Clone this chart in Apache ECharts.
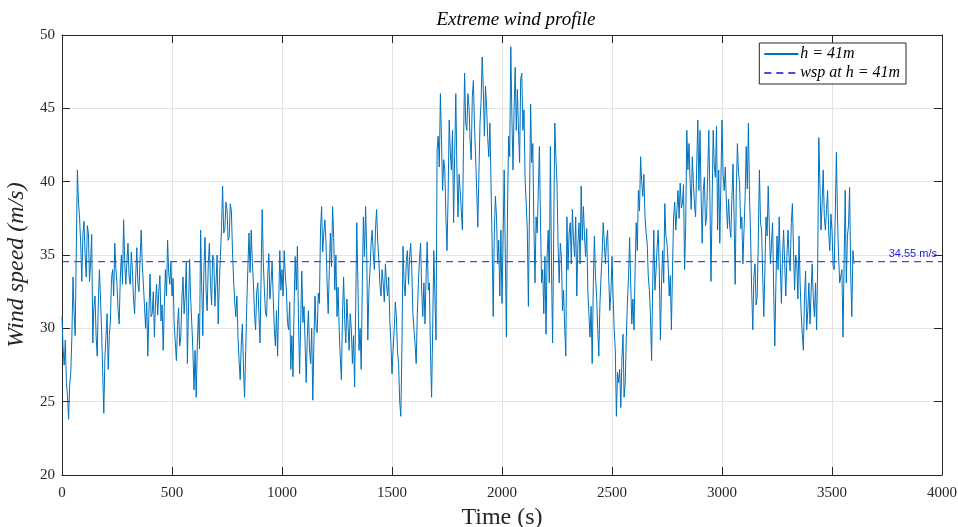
<!DOCTYPE html>
<html>
<head>
<meta charset="utf-8">
<title>Extreme wind profile</title>
<script src="https://cdn.jsdelivr.net/npm/echarts@6/dist/echarts.min.js"></script>
<style>
  html, body { margin: 0; padding: 0; background: #fff; }
  #chart { width: 958px; height: 527px; }
</style>
</head>
<body>
<div id="chart"></div>
<script>
// wind speed at h = 41m, one reading every 5 s, 100 s per row
const sampleStep = 5;
const windSpeed = [
  30.8, 28.6, 27.5, 29.2, 26.3, 25.4, 23.8, 26.2, 27.0, 29.5, 33.5, 31.0, 29.5, 35.5, 40.8, 38.6, 37.5, 35.8, 33.2, 36.4,
  37.3, 35.0, 33.5, 37.0, 36.5, 33.2, 34.5, 36.4, 29.0, 31.5, 32.2, 29.5, 28.1, 31.8, 34.0, 32.0, 29.9, 27.0, 24.2, 28.0,
  29.5, 31.0, 27.2, 29.5, 30.5, 33.4, 34.0, 32.2, 35.8, 34.0, 33.0, 31.2, 30.3, 33.5, 35.0, 33.0, 37.4, 34.6, 33.0, 34.5,
  35.8, 33.5, 33.0, 35.2, 34.0, 32.0, 31.0, 33.5, 35.5, 33.0, 32.5, 34.8, 36.7, 34.3, 33.0, 31.5, 30.0, 31.8, 28.1, 31.0,
  33.7, 30.8, 31.0, 32.5, 29.4, 31.8, 33.0, 30.9, 32.5, 33.6, 30.5, 31.6, 28.5, 31.5, 34.0, 32.2, 36.0, 33.8, 33.0, 34.5,
  32.2, 33.4, 30.3, 29.0, 27.8, 30.2, 31.4, 28.8, 29.4, 32.0, 33.5, 31.0, 32.2, 34.5, 27.6, 31.5, 34.7, 32.0, 30.3, 28.5,
  25.8, 28.5, 25.3, 28.8, 31.0, 28.6, 36.7, 33.0, 29.5, 34.0, 36.2, 32.5, 31.2, 34.5, 35.8, 33.0, 31.6, 35.0, 34.7, 31.5,
  33.1, 35.0, 30.3, 33.0, 34.9, 36.8, 39.7, 36.5, 36.7, 38.6, 38.1, 36.0, 36.2, 38.5, 38.0, 35.2, 33.3, 31.8, 30.8, 32.2,
  29.4, 27.8, 26.5, 29.0, 30.3, 27.2, 25.3, 28.5, 31.7, 34.2, 36.5, 33.8, 36.7, 34.5, 33.1, 31.0, 29.9, 32.5, 33.1, 31.0,
  29.0, 33.5, 38.1, 34.5, 32.6, 31.0, 30.8, 33.4, 35.1, 32.0, 33.1, 34.5, 32.2, 30.0, 28.8, 31.2, 28.1, 31.8, 35.3, 32.6,
  34.0, 32.2, 35.3, 33.6, 32.6, 30.4, 29.9, 31.8, 27.2, 29.5, 26.7, 31.5, 34.9, 32.6, 35.6, 30.5, 26.9, 30.5, 33.9, 30.4,
  31.5, 29.0, 26.3, 29.4, 31.2, 28.6, 27.6, 30.0, 25.1, 29.0, 32.2, 30.0, 29.7, 32.4, 31.7, 36.7, 38.3, 35.2, 36.5, 37.4,
  35.8, 33.1, 31.0, 34.0, 36.5, 34.2, 38.3, 36.2, 32.6, 35.0, 30.8, 32.8, 29.9, 28.0, 26.5, 31.0, 33.5, 30.6, 29.0, 32.0,
  30.3, 28.5, 31.0, 30.0, 27.6, 29.5, 26.0, 31.5, 37.2, 33.0, 28.5, 30.0, 27.2, 33.0, 37.6, 34.9, 38.3, 35.3, 29.2, 32.5,
  34.0, 35.8, 36.7, 35.0, 34.0, 36.8, 38.1, 36.0, 34.7, 33.0, 32.2, 34.0, 33.1, 31.8, 34.4, 33.0, 32.2, 33.5, 30.6, 29.0,
  26.9, 28.5, 29.9, 31.8, 30.8, 28.4, 27.6, 25.0, 24.0, 28.5, 35.6, 33.0, 32.2, 34.6, 35.3, 33.0, 34.9, 35.8, 34.0, 31.0,
  29.9, 28.9, 27.6, 31.0, 33.1, 34.8, 35.8, 32.6, 30.8, 33.1, 30.3, 33.6, 35.9, 32.6, 33.1, 28.3, 25.3, 30.0, 35.3, 32.2,
  29.2, 42.2, 43.1, 41.0, 46.0, 42.8, 39.4, 41.5, 40.8, 37.6, 35.3, 39.0, 44.2, 42.0, 40.8, 43.5, 37.2, 41.8, 46.0, 40.8,
  37.6, 40.5, 39.4, 38.0, 36.7, 42.5, 47.4, 44.0, 43.5, 46.0, 45.1, 42.8, 41.5, 45.8, 46.9, 43.8, 41.7, 39.4, 36.9, 40.5,
  44.0, 45.5, 48.5, 46.3, 43.1, 46.5, 45.1, 43.0, 41.7, 44.0, 39.9, 35.8, 30.8, 36.5, 39.0, 37.6, 34.4, 36.0, 32.2, 36.7,
  31.7, 36.2, 40.8, 35.0, 29.4, 38.0, 43.1, 41.7, 49.2, 44.4, 40.8, 45.0, 47.8, 43.5, 46.3, 43.5, 41.3, 47.0, 47.4, 43.5,
  44.9, 40.1, 38.5, 36.7, 31.5, 38.5, 45.3, 41.3, 42.6, 37.0, 33.1, 37.6, 36.5, 39.4, 42.4, 37.2, 33.1, 34.0, 31.0, 34.9,
  29.6, 34.9, 36.7, 33.1, 42.4, 34.0, 29.0, 36.3, 44.0, 41.7, 39.9, 35.6, 33.1, 35.8, 34.9, 31.2, 32.6, 30.0, 28.1, 37.6,
  34.0, 36.5, 37.2, 34.4, 38.1, 36.0, 34.9, 37.6, 32.2, 35.8, 37.2, 34.4, 39.7, 36.0, 38.3, 36.3, 34.9, 36.8, 32.6, 31.0,
  29.4, 31.5, 27.6, 33.0, 36.3, 33.5, 32.2, 30.0, 28.1, 31.6, 33.5, 35.0, 37.2, 35.8, 34.4, 36.0, 36.7, 33.5, 31.2, 32.4,
  34.9, 32.2, 29.9, 28.5, 24.0, 27.0, 26.3, 27.2, 24.6, 27.8, 29.6, 25.3, 26.3, 29.4, 31.7, 33.5, 36.2, 33.1, 30.3, 32.0,
  29.9, 34.0, 37.2, 35.3, 39.4, 38.0, 41.7, 40.0, 39.0, 40.5, 37.6, 36.5, 35.8, 33.5, 32.6, 30.8, 27.8, 33.0, 36.7, 32.6,
  33.9, 35.5, 36.7, 33.9, 29.2, 33.0, 35.3, 33.1, 38.5, 36.3, 35.8, 34.4, 32.2, 33.6, 29.9, 34.0, 37.6, 38.6, 36.7, 38.1,
  39.4, 37.5, 39.9, 38.2, 38.5, 39.8, 34.0, 37.0, 43.5, 40.8, 42.6, 40.0, 38.1, 41.7, 39.9, 38.4, 37.6, 41.0, 44.2, 39.4,
  43.5, 39.0, 35.8, 39.4, 40.3, 37.0, 37.6, 40.5, 43.5, 39.0, 33.2, 38.5, 43.5, 41.0, 40.3, 43.8, 36.7, 40.8, 35.8, 40.0,
  44.2, 40.5, 39.4, 41.0, 38.5, 36.8, 38.8, 37.0, 36.2, 38.8, 41.2, 37.5, 33.0, 39.5, 42.6, 40.6, 39.9, 36.8, 37.6, 34.4,
  36.7, 38.9, 42.4, 39.5, 44.0, 39.0, 36.3, 32.5, 29.9, 33.5, 34.4, 31.6, 32.2, 36.0, 40.8, 37.2, 36.7, 33.6, 30.8, 34.0,
  37.6, 36.3, 39.7, 37.0, 34.4, 35.8, 37.2, 32.5, 28.8, 33.0, 36.3, 34.0, 37.6, 34.4, 31.7, 34.8, 36.7, 34.4, 32.2, 34.9,
  36.7, 34.8, 33.9, 37.2, 38.5, 35.3, 32.6, 35.0, 34.4, 32.0, 36.3, 33.1, 31.0, 29.6, 28.5, 32.2, 33.9, 29.9, 31.2, 33.1,
  30.3, 32.5, 34.4, 32.0, 30.8, 33.1, 29.9, 34.4, 43.0, 39.9, 36.7, 38.5, 40.8, 37.6, 36.7, 38.1, 39.4, 36.5, 35.3, 37.8,
  36.7, 34.3, 34.0, 38.0, 42.0, 37.5, 34.9, 33.1, 33.1, 34.0, 29.4, 34.4, 39.4, 33.1, 36.3, 37.0, 39.6, 33.8, 30.8, 35.3,
  34.4
];
// mean wind speed at h = 41m
const wspMean = 34.55;
// axis ranges
const timeRange = [0, 4000];
const speedRange = [20, 50];

const serif = "'Liberation Serif', 'DejaVu Serif', serif";
const axisColor = '#262626';
const meanColor = '#4a4ad8';

const profile = windSpeed.map((v, i) => [i * sampleStep, v]);
const meanLine = timeRange.map(t => [t, wspMean]);

const chart = echarts.init(document.getElementById('chart'));

// x/y 轴公共配置
function xAxisBase(pos, showLabel) {
  return {
    type: 'value',
    position: pos,
    min: timeRange[0],
    max: timeRange[1],
    interval: 500,
    axisLine: { show: true, onZero: false, lineStyle: { color: axisColor, width: 1 } },
    axisTick: { show: true, inside: true, length: 8, lineStyle: { color: axisColor } },
    axisLabel: {
      show: showLabel,
      color: axisColor,
      fontFamily: serif,
      fontSize: 15,
      margin: 11,
      formatter: v => String(v)
    },
    splitLine: { show: showLabel, lineStyle: { color: '#e3e3e3', width: 1 } }
  };
}
function yAxisBase(pos, showLabel) {
  return {
    type: 'value',
    position: pos,
    min: speedRange[0],
    max: speedRange[1],
    interval: 5,
    axisLine: { show: true, onZero: false, lineStyle: { color: axisColor, width: 1 } },
    axisTick: { show: true, inside: true, length: 8, lineStyle: { color: axisColor } },
    axisLabel: {
      show: showLabel,
      color: axisColor,
      fontFamily: serif,
      fontSize: 15,
      margin: 7
    },
    splitLine: { show: showLabel, lineStyle: { color: '#e3e3e3', width: 1 } }
  };
}

const xMain = xAxisBase('bottom', true);
xMain.name = 'Time (s)';
xMain.nameLocation = 'middle';
xMain.nameGap = 30;
xMain.nameTextStyle = { color: axisColor, fontFamily: serif, fontSize: 24 };

const yMain = yAxisBase('left', true);
yMain.name = 'Wind speed (m/s)';
yMain.nameLocation = 'middle';
yMain.nameGap = 27;
yMain.nameTextStyle = {
  color: axisColor, fontFamily: serif, fontStyle: 'italic', fontSize: 24,
  padding: [0, 20, 0, 0]
};

const option = {
  backgroundColor: '#fff',
  animation: false,
  title: {
    text: 'Extreme wind profile',
    left: 511,
    textAlign: 'center',
    top: 5,
    textStyle: { fontFamily: serif, fontStyle: 'italic', fontWeight: 'normal', fontSize: 19, color: '#000' }
  },
  grid: { left: 62, right: 16, top: 35, bottom: 52, containLabel: false, outerBoundsMode: 'none' },
  legend: {
    orient: 'vertical',
    right: 52,
    top: 43,
    backgroundColor: '#fff',
    borderColor: axisColor,
    borderWidth: 1,
    borderRadius: 0,
    padding: [3, 6, 3, 4],
    itemGap: 3,
    itemWidth: 34,
    itemHeight: 10,
    itemStyle: { opacity: 0 },
    textStyle: { fontFamily: serif, fontStyle: 'italic', fontSize: 16, color: '#000', padding: [0, 0, 0, -3] },
    data: ['h = 41m', 'wsp at h = 41m']
  },
  xAxis: [xMain, xAxisBase('top', false)],
  yAxis: [yMain, yAxisBase('right', false)],
  series: [
    {
      name: 'h = 41m',
      type: 'line',
      data: profile,
      symbol: 'none',
      lineStyle: { color: '#0072BD', width: 1 },
      itemStyle: { color: '#0072BD' },
      z: 3
    },
    {
      name: 'wsp at h = 41m',
      type: 'line',
      data: meanLine,
      symbol: 'none',
      lineStyle: { color: meanColor, width: 1.2, type: [7, 5] },
      itemStyle: { color: meanColor },
      z: 4,
      // 右端数值标注
      markPoint: {
        silent: true,
        symbol: 'rect',
        symbolSize: 0,
        itemStyle: { color: meanColor },
        label: {
          show: true,
          position: 'left',
          distance: 5,
          offset: [0, -8],
          formatter: wspMean.toFixed(2) + ' m/s',
          color: '#2222dd',
          fontFamily: "'Liberation Sans', Arial, sans-serif",
          fontSize: 11
        },
        data: [{ coord: [timeRange[1], wspMean] }]
      }
    }
  ]
};

chart.setOption(option);
</script>
</body>
</html>
